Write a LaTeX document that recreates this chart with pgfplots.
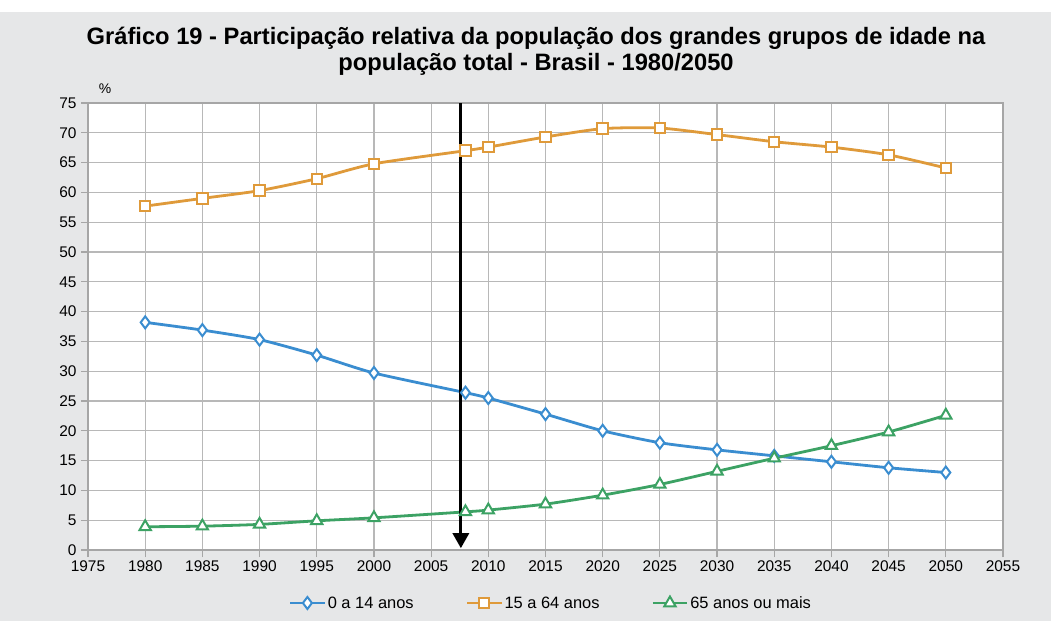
\documentclass[border=0pt]{standalone}
\usepackage{pgfplots}
\pgfplotsset{compat=1.18}
\usepackage{fontspec}
\setmainfont{Liberation Sans}
\usetikzlibrary{arrows.meta}
\definecolor{bggrey}{RGB}{230,231,232}
\definecolor{gridgrey}{RGB}{184,184,184}
\definecolor{axisgrey}{RGB}{166,166,166}
\definecolor{cblue}{RGB}{58,141,208}
\definecolor{corange}{RGB}{223,154,58}
\definecolor{cgreen}{RGB}{60,162,100}
\begin{document}
\begin{tikzpicture}
\fill[white] (0,0) rectangle (1051bp,-621bp);
\fill[bggrey] (0,-12bp) rectangle (1051bp,-621bp);
\node[align=center,font=\bfseries\fontsize{23.8}{26.5}\selectfont,inner sep=0] at (536bp,-51bp)
{Gráfico 19 - Participação relativa da população dos grandes grupos de idade na\\população total - Brasil - 1980/2050};
\node[font=\fontsize{14}{16}\selectfont,inner sep=0] at (105bp,-89bp) {\%};
\begin{axis}[
  at={(88bp,-550bp)}, anchor=south west,
  scale only axis, width=915bp, height=447bp,
  xmin=1975, xmax=2055, ymin=0, ymax=75,
  xtick distance=5, ytick distance=5,
  axis background/.style={fill=white},
  grid=major,
  major grid style={color=gridgrey, line width=1.2bp},
  axis line style={color=axisgrey, line width=1.8bp},
  tick style={color=axisgrey, line width=1.2bp},
  tick align=outside, major tick length=7bp,
  xtick pos=bottom, ytick pos=left,
  /pgf/number format/assume math mode=true,
  xticklabel style={/pgf/number format/1000 sep={}},
  ticklabel style={font=\fontsize{15.5}{18}\selectfont},
  yticklabel style={xshift=-1bp},
  legend style={at={(0.506,-0.1186)}, anchor=center, draw=none, fill=none,
    font=\fontsize{16.5}{19}\selectfont, legend columns=3,
    /tikz/every even column/.append style={column sep=50bp}},
  legend image code/.code={\draw[mark repeat=2,mark phase=2,#1] plot coordinates {(0bp,0bp) (17bp,0bp) (34bp,0bp)};},
  every axis plot/.append style={line width=2.8bp, smooth, tension=0.4},
]
\addplot[cblue, mark=diamond*, mark size=6bp, mark options={fill=white, line width=2bp}] coordinates {
(1980,38.2) (1985,36.9) (1990,35.3) (1995,32.7) (2000,29.7) (2008,26.4) (2010,25.5) (2015,22.8) (2020,20.0) (2025,18.0) (2030,16.8) (2035,15.8) (2040,14.8) (2045,13.8) (2050,13.0)};
\addlegendentry{0 a 14 anos}
\addplot[corange, mark=square*, mark size=5.2bp, mark options={fill=white, line width=2bp}] coordinates {
(1980,57.7) (1985,59.0) (1990,60.3) (1995,62.3) (2000,64.8) (2008,67.0) (2010,67.6) (2015,69.3) (2020,70.7) (2025,70.8) (2030,69.7) (2035,68.5) (2040,67.6) (2045,66.3) (2050,64.1)};
\addlegendentry{15 a 64 anos}
\addplot[cgreen, mark=triangle*, mark size=6.5bp, mark options={fill=white, line width=2bp}] coordinates {
(1980,3.9) (1985,4.0) (1990,4.3) (1995,4.9) (2000,5.4) (2008,6.4) (2010,6.7) (2015,7.7) (2020,9.2) (2025,11.0) (2030,13.2) (2035,15.4) (2040,17.5) (2045,19.8) (2050,22.6)};
\addlegendentry{65 anos ou mais}
\draw[-{Triangle[width=16bp,length=15bp]}, line width=3bp, black] (axis cs:2007.6,75) -- (axis cs:2007.6,0.3);
\end{axis}
\end{tikzpicture}
\end{document}
